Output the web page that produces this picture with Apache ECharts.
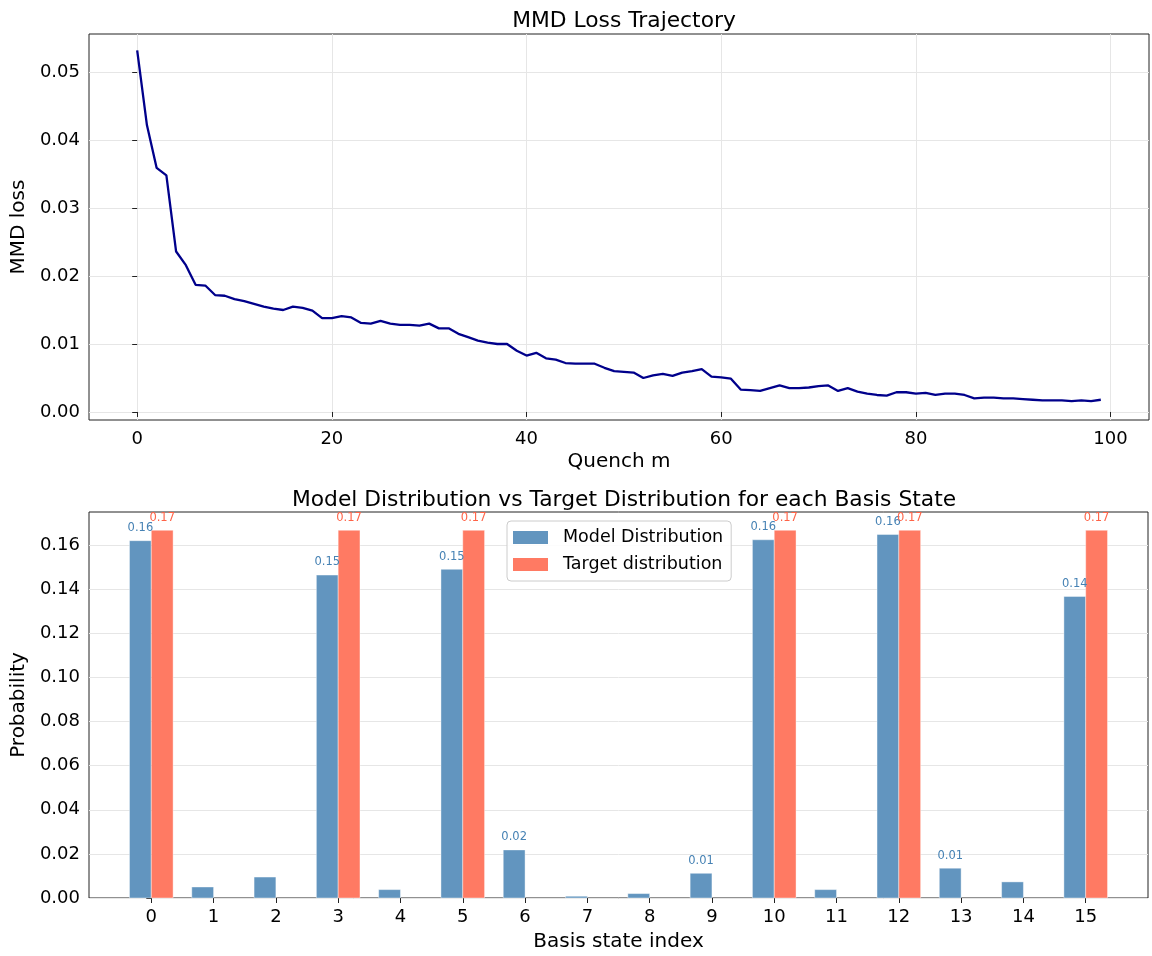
<!DOCTYPE html>
<html>
<head>
<meta charset="utf-8">
<title>MMD training summary</title>
<script src="https://cdn.jsdelivr.net/npm/echarts@6/dist/echarts.min.js"></script>
<style>
  html, body { margin: 0; padding: 0; background: #fff; }
  #chart { width: 1152px; height: 956px; }
</style>
</head>
<body>
<div id="chart"></div>
<script>
// MMD loss recorded at every quench step m = 0..99
const lossValues = [
  0.0532, 0.0422, 0.0359, 0.0348, 0.0236, 0.0216, 0.0187, 0.0186, 0.0172, 0.0171,
  0.0166, 0.0163, 0.0159, 0.0155, 0.0152, 0.0150, 0.0155, 0.0153, 0.0149, 0.0138,
  0.0138, 0.0141, 0.0139, 0.0131, 0.0130, 0.0134, 0.0130, 0.0128, 0.0128, 0.0127,
  0.0130, 0.0123, 0.0123, 0.0115, 0.0110, 0.0105, 0.0102, 0.0100, 0.0100, 0.0090,
  0.0083, 0.0087, 0.0079, 0.0077, 0.0072, 0.0071, 0.0071, 0.0071, 0.0065, 0.0060,
  0.0059, 0.0058, 0.0050, 0.0054, 0.0056, 0.0053, 0.0058, 0.0060, 0.0063, 0.0052,
  0.0051, 0.0049, 0.0033, 0.0032, 0.0031, 0.0035, 0.0039, 0.0035, 0.0035, 0.0036,
  0.0038, 0.0039, 0.0031, 0.0035, 0.0030, 0.0027, 0.0025, 0.0024, 0.0029, 0.0029,
  0.0027, 0.0028, 0.0025, 0.0027, 0.0027, 0.0025, 0.0020, 0.0021, 0.0021, 0.0020,
  0.0020, 0.0019, 0.0018, 0.0017, 0.0017, 0.0017, 0.0016, 0.0017, 0.0016, 0.0018
];

// Basis states and their probabilities
const basisStates = [0, 1, 2, 3, 4, 5, 6, 7, 8, 9, 10, 11, 12, 13, 14, 15];
const modelProbs = [
  0.1620, 0.0050, 0.0095, 0.1464, 0.0038, 0.1490, 0.0218, 0.0008,
  0.0020, 0.0112, 0.1624, 0.0038, 0.1648, 0.0135, 0.0073, 0.1367
];
const targetProbs = [
  0.1667, 0, 0, 0.1667, 0, 0.1667, 0, 0,
  0, 0, 0.1667, 0, 0.1667, 0, 0, 0.1667
];

// Tick positions
const lossXTicks = [0, 20, 40, 60, 80, 100];
const lossYTicks = [0, 0.01, 0.02, 0.03, 0.04, 0.05];
const probYTicks = [0, 0.02, 0.04, 0.06, 0.08, 0.10, 0.12, 0.14, 0.16];

const FONT = '"DejaVu Sans", "Liberation Sans", sans-serif';
const BAR_W = 0.35;          // bar width in index units
const LABEL_MIN = 0.01;      // only annotate bars above this height
const LABEL_PAD = 0.003;     // gap between bar top and its annotation
const MODEL_COLOR = '#6295BF';
const TARGET_COLOR = '#FF7A63';

const lossData = lossValues.map((v, i) => [i, v]);
const modelData = basisStates.map((s, i) => [s, modelProbs[i]]);
const targetData = basisStates.map((s, i) => [s, targetProbs[i]]);

function barRenderer(offsetLeft, fill, labelColor) {
  return function (params, api) {
    const x = api.value(0);
    const y = api.value(1);
    if (!(y > 0)) return null;
    const x0 = offsetLeft ? x - BAR_W : x;
    const x1 = offsetLeft ? x : x + BAR_W;
    const pBase = api.coord([x0, 0]);
    const pTop = api.coord([x1, y]);
    const children = [{
      type: 'rect',
      shape: { x: pBase[0], y: pTop[1], width: pTop[0] - pBase[0], height: pBase[1] - pTop[1] },
      style: { fill: fill, stroke: 'rgba(255,255,255,0.5)', lineWidth: 0.8 }
    }];
    if (y > LABEL_MIN) {
      const pLab = api.coord([(x0 + x1) / 2, y + LABEL_PAD]);
      children.push({
        type: 'text',
        x: pLab[0],
        y: pLab[1],
        z2: 10,
        style: {
          text: y.toFixed(2),
          fill: labelColor,
          font: '11.5px ' + FONT,
          align: 'center',
          verticalAlign: 'bottom'
        }
      });
    }
    return { type: 'group', children: children };
  };
}

const axisLabelStyle = { color: '#000', fontFamily: FONT, fontSize: 18 };
const nameStyle = { color: '#000', fontFamily: FONT, fontSize: 20 };
const titleStyle = { color: '#000', fontFamily: FONT, fontSize: 21.8, fontWeight: 'normal' };
const tickStyle = { show: true, inside: false, length: 5, lineStyle: { color: '#222', width: 1 } };
const gridLine = { show: true, lineStyle: { color: '#e6e6e6', width: 1 } };

const chart = echarts.init(document.getElementById('chart'), null, { renderer: 'canvas' });

chart.setOption({
  animation: false,
  backgroundColor: '#fff',
  title: [
    { text: 'MMD Loss Trajectory', left: 619, top: 5, textAlign: 'center', textStyle: titleStyle },
    {
      text: 'Model Distribution vs Target Distribution for each Basis State',
      left: 619, top: 484, textAlign: 'center', textStyle: titleStyle
    }
  ],
  legend: {
    data: ['Model Distribution', 'Target distribution'],
    orient: 'vertical',
    left: 507, top: 521,
    itemWidth: 35, itemHeight: 13, itemGap: 6,
    padding: [6, 8, 6, 6],
    borderColor: '#cccccc', borderWidth: 1, borderRadius: 4,
    backgroundColor: 'rgba(255,255,255,0.85)',
    icon: 'rect',
    textStyle: { color: '#000', fontFamily: FONT, fontSize: 17.5, lineHeight: 21, padding: [0, 0, 0, 10] }
  },
  grid: [
    { left: 89, right: 3, top: 34, height: 386, show: true, borderColor: '#222', borderWidth: 1, backgroundColor: 'transparent' },
    { left: 89, right: 4, top: 512, height: 386, show: true, borderColor: '#222', borderWidth: 1, backgroundColor: 'transparent' }
  ],
  xAxis: [
    {
      gridIndex: 0, type: 'value', min: -4.95, max: 103.95,
      name: 'Quench m', nameLocation: 'middle', nameGap: 32, nameTextStyle: nameStyle,
      axisLine: { show: false },
      axisTick: Object.assign({ customValues: lossXTicks }, tickStyle),
      axisLabel: Object.assign({ customValues: lossXTicks, margin: 10 }, axisLabelStyle),
      splitLine: gridLine
    },
    {
      gridIndex: 1, type: 'value', min: -1, max: 16,
      name: 'Basis state index', nameLocation: 'middle', nameGap: 34, nameTextStyle: nameStyle,
      axisLine: { show: false },
      axisTick: Object.assign({ customValues: basisStates }, tickStyle),
      axisLabel: Object.assign({ customValues: basisStates, margin: 10 }, axisLabelStyle),
      splitLine: { show: false }
    }
  ],
  yAxis: [
    {
      gridIndex: 0, type: 'value', min: -0.00118, max: 0.0556,
      name: 'MMD loss', nameLocation: 'middle', nameGap: 60, nameTextStyle: nameStyle,
      axisLine: { show: false },
      axisTick: Object.assign({ customValues: lossYTicks }, tickStyle),
      axisLabel: Object.assign({ customValues: lossYTicks, margin: 9, formatter: v => v.toFixed(2) }, axisLabelStyle),
      splitLine: gridLine
    },
    {
      gridIndex: 1, type: 'value', min: 0, max: 0.175,
      name: 'Probability', nameLocation: 'middle', nameGap: 58, nameTextStyle: nameStyle,
      axisLine: { show: false },
      axisTick: Object.assign({ customValues: probYTicks }, tickStyle),
      axisLabel: Object.assign({ customValues: probYTicks, margin: 9, formatter: v => v.toFixed(2) }, axisLabelStyle),
      splitLine: gridLine
    }
  ],
  series: [
    {
      name: 'MMD loss',
      type: 'line',
      xAxisIndex: 0, yAxisIndex: 0,
      data: lossData,
      showSymbol: false,
      lineStyle: { color: '#00008B', width: 2.3 },
      itemStyle: { color: '#00008B' },
      z: 5
    },
    {
      name: 'Model Distribution',
      type: 'custom',
      xAxisIndex: 1, yAxisIndex: 1,
      data: modelData,
      itemStyle: { color: MODEL_COLOR },
      renderItem: barRenderer(true, MODEL_COLOR, '#4682B4'),
      z: 3
    },
    {
      name: 'Target distribution',
      type: 'custom',
      xAxisIndex: 1, yAxisIndex: 1,
      data: targetData,
      itemStyle: { color: TARGET_COLOR },
      renderItem: barRenderer(false, TARGET_COLOR, '#FF6347'),
      z: 3
    }
  ]
});
</script>
</body>
</html>
